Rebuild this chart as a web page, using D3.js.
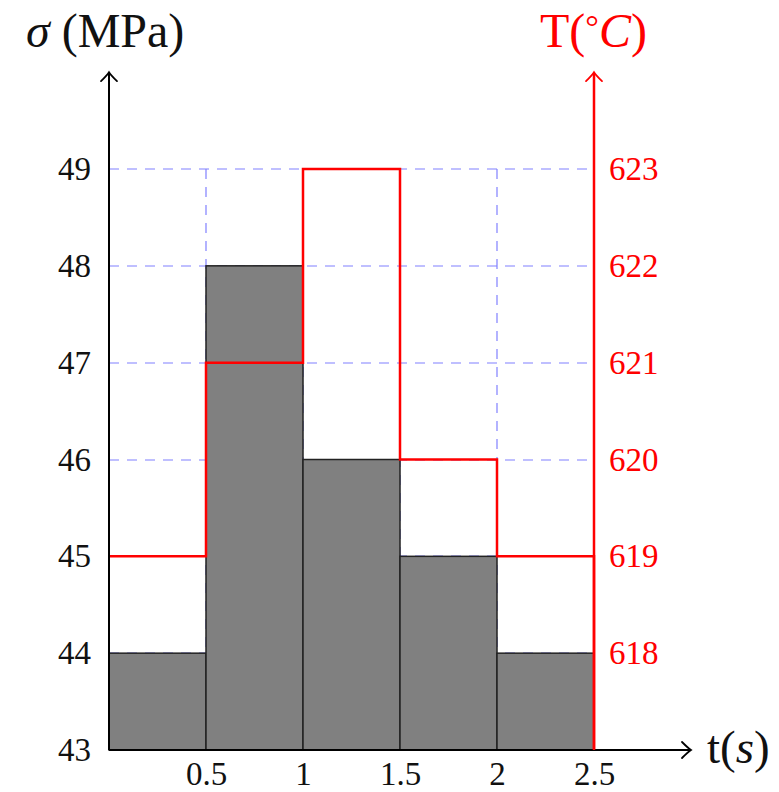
<!DOCTYPE html>
<html>
<head>
<meta charset="utf-8">
<script src="https://cdn.jsdelivr.net/npm/d3@7"></script>
<style>
  body { margin: 0; background: #fff; }
  text { font-family: "Liberation Serif", "DejaVu Serif", serif; }
</style>
</head>
<body>
<div id="chart"></div>
<script>
// Data
const intervals = [[0, 0.5], [0.5, 1], [1, 1.5], [1.5, 2], [2, 2.5]];
const stress = [44, 48, 46, 45, 44];           // sigma (MPa), grey bars
const temperature = [619, 621, 623, 620, 619]; // T (°C), red steps
const xTicks = [0.5, 1, 1.5, 2, 2.5];
const leftTicks = [43, 44, 45, 46, 47, 48, 49];
const rightTicks = [618, 619, 620, 621, 622, 623];

const W = 779, H = 792;
const svg = d3.select("#chart").append("svg")
    .attr("width", W).attr("height", H);

const x = d3.scaleLinear().domain([0, 2.5]).range([109, 594]);
const y = d3.scaleLinear().domain([43, 49]).range([750, 169]);
const yT = d3.scaleLinear().domain([617, 623]).range([750, 169]);

// dashed grid (drawn first, bars cover part of it)
const grid = svg.append("g")
    .attr("stroke", "#8080ff")
    .attr("stroke-width", 1.2)
    .attr("stroke-dasharray", "10,8");
d3.range(0, 2.51, 0.5).forEach(v => {
    grid.append("line")
        .attr("x1", Math.round(x(v))).attr("x2", Math.round(x(v)))
        .attr("y1", y(49)).attr("y2", y(43));
});
leftTicks.forEach(v => {
    grid.append("line")
        .attr("x1", x(0)).attr("x2", x(2.5))
        .attr("y1", Math.round(y(v))).attr("y2", Math.round(y(v)));
});

// grey bars
svg.append("g").selectAll("rect")
    .data(intervals)
    .join("rect")
    .attr("x", d => x(d[0]))
    .attr("width", d => x(d[1]) - x(d[0]))
    .attr("y", (d, i) => y(stress[i]))
    .attr("height", (d, i) => y(43) - y(stress[i]))
    .attr("fill", "#808080")
    .attr("stroke", "#222")
    .attr("stroke-width", 1.5);

// red step line for temperature
const steps = [];
intervals.forEach((d, i) => {
    steps.push([d[0], temperature[i]]);
    steps.push([d[1], temperature[i]]);
});
steps.push([2.5, 617]);
svg.append("path")
    .datum(steps)
    .attr("d", d3.line().x(d => x(d[0])).y(d => yT(d[1])))
    .attr("fill", "none")
    .attr("stroke", "#ff0000")
    .attr("stroke-width", 2.5);

// axes with open arrow heads
function arrowHead(px, py, dir, color) {
    // dir: "up" or "right"
    const p = dir === "up"
        ? `M${px - 8},${py + 9} Q${px - 2},${py + 3} ${px},${py} Q${px + 2},${py + 3} ${px + 8},${py + 9}`
        : `M${px - 9},${py - 8} Q${px - 3},${py - 2} ${px},${py} Q${px - 3},${py + 2} ${px - 9},${py + 8}`;
    svg.append("path").attr("d", p)
        .attr("fill", "none").attr("stroke", color)
        .attr("stroke-width", 1.8).attr("stroke-linecap", "round");
}

svg.append("line")
    .attr("x1", x(0)).attr("x2", x(3) - 1)
    .attr("y1", y(43)).attr("y2", y(43))
    .attr("stroke", "#000").attr("stroke-width", 2);
arrowHead(x(3), y(43), "right", "#000");

svg.append("line")
    .attr("x1", x(0)).attr("x2", x(0))
    .attr("y1", y(43)).attr("y2", y(50) + 1)
    .attr("stroke", "#000").attr("stroke-width", 2);
arrowHead(x(0), y(50), "up", "#000");

svg.append("line")
    .attr("x1", x(2.5)).attr("x2", x(2.5))
    .attr("y1", y(43)).attr("y2", y(50) + 1)
    .attr("stroke", "#ff0000").attr("stroke-width", 2.5);
arrowHead(x(2.5), y(50), "up", "#ff0000");

// tick labels
const fs = "33px";
svg.append("g")
    .attr("transform", `translate(${x(0)},0)`)
    .call(d3.axisLeft(y).tickValues(leftTicks).tickSize(0).tickPadding(18).tickFormat(d3.format("d")))
    .call(g => g.select(".domain").remove())
    .selectAll("text")
    .attr("font-size", fs).attr("fill", "#111");

svg.append("g")
    .attr("transform", `translate(${x(2.5)},0)`)
    .call(d3.axisRight(yT).tickValues(rightTicks).tickSize(0).tickPadding(15).tickFormat(d3.format("d")))
    .call(g => g.select(".domain").remove())
    .selectAll("text")
    .attr("font-size", fs).attr("fill", "#ff0000");

svg.append("g")
    .attr("transform", `translate(0,${y(43)})`)
    .call(d3.axisBottom(x).tickValues(xTicks).tickSize(0).tickPadding(12).tickFormat(d => String(d)))
    .call(g => g.select(".domain").remove())
    .selectAll("text")
    .attr("font-size", fs).attr("fill", "#111");

// axis titles
const left = svg.append("text")
    .attr("x", 26).attr("y", 47)
    .attr("font-size", "48px").attr("fill", "#111");
left.append("tspan").attr("font-style", "italic").text("σ");
left.append("tspan").text(" (MPa)");

const right = svg.append("text")
    .attr("x", 540).attr("y", 47)
    .attr("font-size", "48px").attr("fill", "#ff0000");
right.append("tspan").text("T(");
right.append("tspan").attr("font-size", "34px").attr("dy", -9).text("°");
right.append("tspan").attr("dy", 9).attr("font-style", "italic").text("C");
right.append("tspan").text(")");

const t = svg.append("text")
    .attr("x", 707).attr("y", 763)
    .attr("font-size", "47px").attr("fill", "#111");
t.append("tspan").text("t(");
t.append("tspan").attr("font-style", "italic").text("s");
t.append("tspan").text(")");
</script>
</body>
</html>
